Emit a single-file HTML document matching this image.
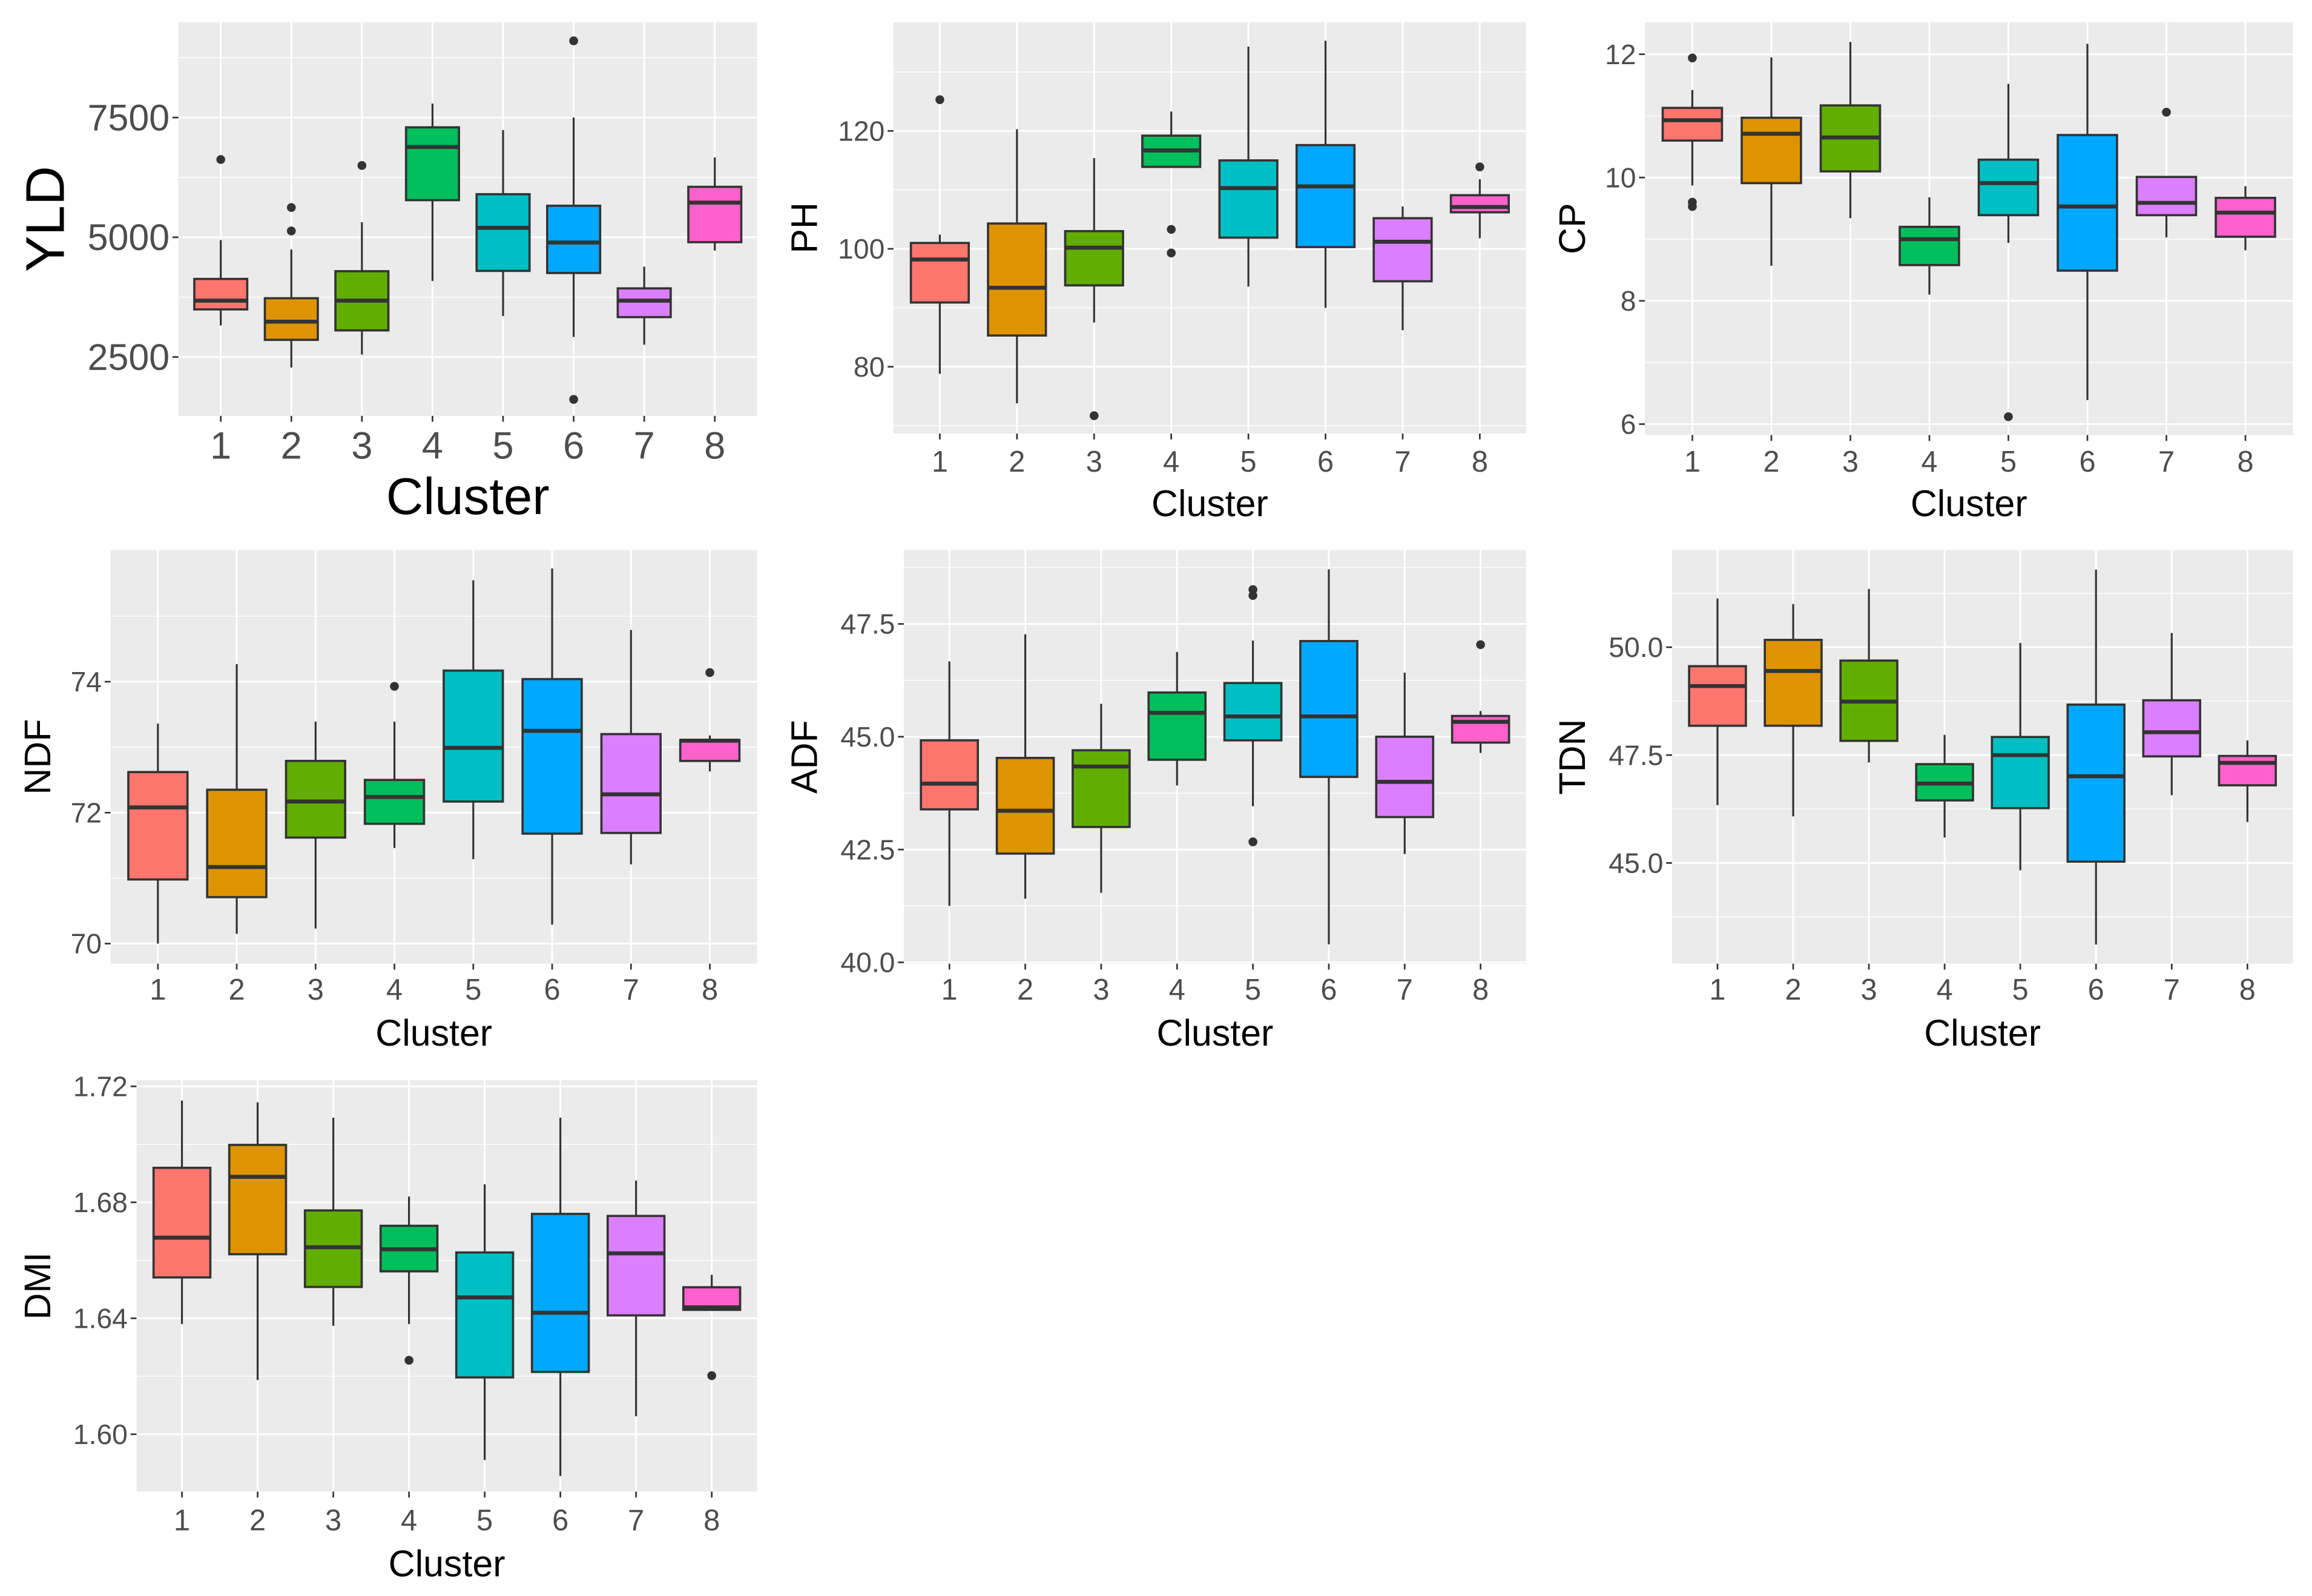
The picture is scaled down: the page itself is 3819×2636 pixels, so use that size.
<!DOCTYPE html>
<html><head><meta charset="utf-8"><style>
html,body{margin:0;padding:0;background:#fff;}
svg{display:block;}
text{font-family:"Liberation Sans",Arial,sans-serif;}
</style></head><body>
<svg id="chart" xmlns="http://www.w3.org/2000/svg" width="3819" height="2636" viewBox="0 0 1568 1082.3" preserveAspectRatio="none"></svg>
<script>
// ---- data ----
const categories = ["1","2","3","4","5","6","7","8"];
const colors = ["#FF766F","#DE9400","#61AE00","#00BE5C","#00BFC4","#00A9FF","#DC7FFF","#FF61CC"];

const yldLow  = [3158,2281,2551,4086,3355,2917,2756,4722];
const yldQ1   = [3494,2858,3056,5775,4298,4254,3333,4898];
const yldMed  = [3677,3238,3677,6886,5197,4890,3677,5724];
const yldQ3   = [4130,3728,4291,7295,5899,5658,3933,6053];
const yldHigh = [4942,4744,5314,7792,7237,7500,4386,6667];
const yldOut  = [[6623],[5621,5132],[6499],[],[],[9101,1615],[],[]];
const yldTicks = [2500,5000,7500];

const phLow  = [78.8,73.8,87.5,113.9,93.6,90.0,86.2,101.8];
const phQ1   = [90.9,85.3,93.8,113.9,101.9,100.3,94.5,106.2];
const phMed  = [98.2,93.4,100.2,116.7,110.3,110.6,101.2,107.1];
const phQ3   = [101.0,104.3,103.0,119.2,115.0,117.6,105.2,109.1];
const phHigh = [102.4,120.3,115.4,123.3,134.3,135.3,107.2,111.8];
const phOut  = [[125.3],[],[71.7],[103.3,99.3],[],[],[],[113.9]];
const phTicks = [80,100,120];

const cpLow  = [9.87,8.57,9.34,8.10,8.94,6.39,9.03,8.82];
const cpQ1   = [10.60,9.91,10.10,8.58,9.39,8.49,9.39,9.04];
const cpMed  = [10.93,10.71,10.65,9.00,9.91,9.53,9.59,9.43];
const cpQ3   = [11.13,10.97,11.17,9.20,10.29,10.69,10.01,9.67];
const cpHigh = [11.42,11.95,12.20,9.68,11.52,12.17,10.01,9.86];
const cpOut  = [[11.94,9.60,9.53],[],[],[],[6.12],[],[11.06],[]];
const cpTicks = [6,8,10,12];

const ndfLow  = [70.0,70.15,70.23,71.46,71.29,70.29,71.21,72.63];
const ndfQ1   = [70.98,70.71,71.62,71.83,72.17,71.68,71.69,72.79];
const ndfMed  = [72.08,71.17,72.17,72.24,72.99,73.25,72.28,73.10];
const ndfQ3   = [72.62,72.35,72.79,72.50,74.17,74.04,73.20,73.11];
const ndfHigh = [73.36,74.27,73.39,73.39,75.55,75.73,74.79,73.18];
const ndfOut  = [[],[],[],[73.93],[],[],[],[74.14]];
const ndfTicks = [70,72,74];

const adfLow  = [41.25,41.41,41.54,43.92,43.46,40.40,42.40,44.64];
const adfQ1   = [43.39,42.41,43.00,44.49,44.92,44.11,43.22,44.87];
const adfMed  = [43.96,43.36,44.34,45.53,45.45,45.45,44.00,45.33];
const adfQ3   = [44.92,44.53,44.70,45.98,46.19,47.12,45.00,45.46];
const adfHigh = [46.67,47.27,45.73,46.88,47.13,48.71,46.42,45.57];
const adfOut  = [[],[],[],[],[48.26,48.13,42.67],[],[],[47.04]];
const adfTicks = [40.0,42.5,45.0,47.5];

const tdnLow  = [46.34,46.08,47.33,45.59,44.83,43.11,46.57,45.95];
const tdnQ1   = [48.18,48.18,47.83,46.45,46.27,45.03,47.47,46.80];
const tdnMed  = [49.10,49.45,48.74,46.84,47.50,47.01,48.03,47.32];
const tdnQ3   = [49.56,50.17,49.69,47.29,47.92,48.67,48.77,47.48];
const tdnHigh = [51.13,51.00,51.35,47.97,50.10,51.80,50.33,47.84];
const tdnOut  = [[],[],[],[],[],[],[],[]];
const tdnTicks = [45.0,47.5,50.0];

const dmiLow  = [1.638,1.6187,1.6374,1.6380,1.5911,1.5856,1.6062,1.6429];
const dmiQ1   = [1.6541,1.6621,1.6508,1.6562,1.6196,1.6215,1.6410,1.6429];
const dmiMed  = [1.6678,1.6888,1.6645,1.6638,1.6472,1.6419,1.6624,1.6438];
const dmiQ3   = [1.6919,1.6998,1.6772,1.6719,1.6627,1.6760,1.6753,1.6507];
const dmiHigh = [1.7151,1.7145,1.7092,1.6820,1.6862,1.7092,1.6875,1.6550];
const dmiOut  = [[],[],[],[1.6255],[],[],[],[1.6202]];
const dmiTicks = [1.60,1.64,1.68,1.72];

// ---- layout ----
const NS = "http://www.w3.org/2000/svg";
const svg = document.getElementById("chart");
function mk(tag, attrs, parent){
  const e = document.createElementNS(NS, tag);
  for (const k in attrs) e.setAttribute(k, attrs[k]);
  (parent||svg).appendChild(e);
  return e;
}

const panels = [
  {key:"yld", title:"YLD", low:yldLow,q1:yldQ1,med:yldMed,q3:yldQ3,high:yldHigh,out:yldOut,ticks:yldTicks,dec:0,
   x0:121,x1:513.5,y0:15,y1:282, va:7500,pa:79.7,vb:2500,pb:242.1, big:true, ytx:30, xlab:302, xtitle:336},
  {key:"ph", title:"PH", low:phLow,q1:phQ1,med:phMed,q3:phQ3,high:phHigh,out:phOut,ticks:phTicks,dec:0,
   x0:606,x1:1035,y0:15,y1:294, va:120,pa:88.8,vb:80,pb:248.7, ytx:545, xlab:313, xtitle:341},
  {key:"cp", title:"CP", low:cpLow,q1:cpQ1,med:cpMed,q3:cpQ3,high:cpHigh,out:cpOut,ticks:cpTicks,dec:0,
   x0:1115.6,x1:1555,y0:15,y1:295, va:12,pa:36.8,vb:6,pb:287.6, ytx:1066, xlab:313, xtitle:341},
  {key:"ndf", title:"NDF", low:ndfLow,q1:ndfQ1,med:ndfMed,q3:ndfQ3,high:ndfHigh,out:ndfOut,ticks:ndfTicks,dec:0,
   x0:75,x1:513.5,y0:373,y1:653.5, va:74,pa:462.3,vb:70,pb:639.9, ytx:25, xlab:671, xtitle:700},
  {key:"adf", title:"ADF", low:adfLow,q1:adfQ1,med:adfMed,q3:adfQ3,high:adfHigh,out:adfOut,ticks:adfTicks,dec:1,
   x0:613,x1:1035,y0:373,y1:653.5, va:47.5,pa:423.1,vb:40,pb:652.6, ytx:545, xlab:671, xtitle:700},
  {key:"tdn", title:"TDN", low:tdnLow,q1:tdnQ1,med:tdnMed,q3:tdnQ3,high:tdnHigh,out:tdnOut,ticks:tdnTicks,dec:1,
   x0:1134,x1:1555,y0:373,y1:653.5, va:50,pa:438.9,vb:45,pb:585.2, ytx:1066, xlab:671, xtitle:700},
  {key:"dmi", title:"DMI", low:dmiLow,q1:dmiQ1,med:dmiMed,q3:dmiQ3,high:dmiHigh,out:dmiOut,ticks:dmiTicks,dec:2,
   x0:92.6,x1:513.5,y0:732.5,y1:1011.5, va:1.72,pa:736.7,vb:1.60,pb:972.6, ytx:25, xlab:1031, xtitle:1060}
];

panels.forEach(p => {
  const g = mk("g", {});
  
  
  const yS = v => p.pa + (v - p.va) * (p.pb - p.pa) / (p.vb - p.va);
  const yInv = y => p.va + (y - p.pa) * (p.vb - p.va) / (p.pb - p.pa);
  const unit = (p.x1 - p.x0) / (categories.length - 1 + 1.2);
  const xS = i => p.x0 + (i + 0.6) * unit;
  const fs = p.big ? 25 : 19, ts = p.big ? 35 : 25, ys = p.big ? 37 : 25;

  const bg = mk("rect", {x:p.x0, y:p.y0, width:p.x1-p.x0, height:p.y1-p.y0, fill:"#EBEBEB"}, g);
  
  

  const step = p.ticks[1] - p.ticks[0];
  const vTop = yInv(p.y0), vBot = yInv(p.y1);
  const lo = Math.min(vTop, vBot), hi = Math.max(vTop, vBot);
  for (let v = p.ticks[0] - step * 5.5; v <= hi; v += step) {
    if (v < lo) continue;
    const y = yS(v);
    const l = mk("line", {x1:p.x0, x2:p.x1, y1:y, y2:y, stroke:"#fff", "stroke-width":0.6}, g);
    
    
  }
  p.ticks.forEach(t => {
    const y = yS(t);
    const l = mk("line", {x1:p.x0, x2:p.x1, y1:y, y2:y, stroke:"#fff", "stroke-width":1.2}, g);
    
    
    const tk = mk("line", {x1:p.x0-4, x2:p.x0, y1:y, y2:y, stroke:"#333", "stroke-width":1.1}, g);
    
    
    const tx = mk("text", {x:p.x0-6, y:y + fs*0.35, "text-anchor":"end", "font-size":fs, fill:"#4D4D4D"}, g);
    
    
    tx.textContent = t.toFixed(p.dec);
  });
  categories.forEach((c, i) => {
    const x = xS(i);
    const l = mk("line", {x1:x, x2:x, y1:p.y0, y2:p.y1, stroke:"#fff", "stroke-width":1.2}, g);
    
    
    const tk = mk("line", {x1:x, x2:x, y1:p.y1, y2:p.y1+4, stroke:"#333", "stroke-width":1.1}, g);
    
    
    const tx = mk("text", {x:x, y:p.xlab + fs*0.36, "text-anchor":"middle", "font-size":fs+1, fill:"#4D4D4D"}, g);
    
    
    tx.textContent = c;
  });

  categories.forEach((c, i) => {
    const x = xS(i), hw = unit * 0.375;
    const bx = mk("g", {}, g);
    
    
    mk("line", {x1:x, x2:x, y1:yS(p.high[i]), y2:yS(p.q3[i]), stroke:"#333", "stroke-width":1.3}, bx);
    mk("line", {x1:x, x2:x, y1:yS(p.q1[i]), y2:yS(p.low[i]), stroke:"#333", "stroke-width":1.3}, bx);
    const yq3 = yS(p.q3[i]), yq1 = yS(p.q1[i]);
    mk("rect", {x:x-hw, y:Math.min(yq3,yq1), width:hw*2, height:Math.abs(yq1-yq3), fill:colors[i], stroke:"#333", "stroke-width":1.5}, bx);
    mk("line", {x1:x-hw, x2:x+hw, y1:yS(p.med[i]), y2:yS(p.med[i]), stroke:"#333", "stroke-width":2.7}, bx);
    p.out[i].forEach(v => {
      const o = mk("circle", {cx:x, cy:yS(v), r:3, fill:"#333"}, g);
      
      
    });
  });

  const xt = mk("text", {x:(p.x0+p.x1)/2, y:p.xtitle + ts*0.36, "text-anchor":"middle", "font-size":ts, fill:"#000"}, g);
  
  
  xt.textContent = "Cluster";
  const cy = (p.y0 + p.y1) / 2;
  const yt = mk("text", {x:p.ytx, y:cy, "text-anchor":"middle", "font-size":ys, fill:"#000", transform:"rotate(-90 " + p.ytx + " " + cy + ")", dy:ys*0.36}, g);
  
  
  yt.textContent = p.title;
});
</script>
</body></html>
